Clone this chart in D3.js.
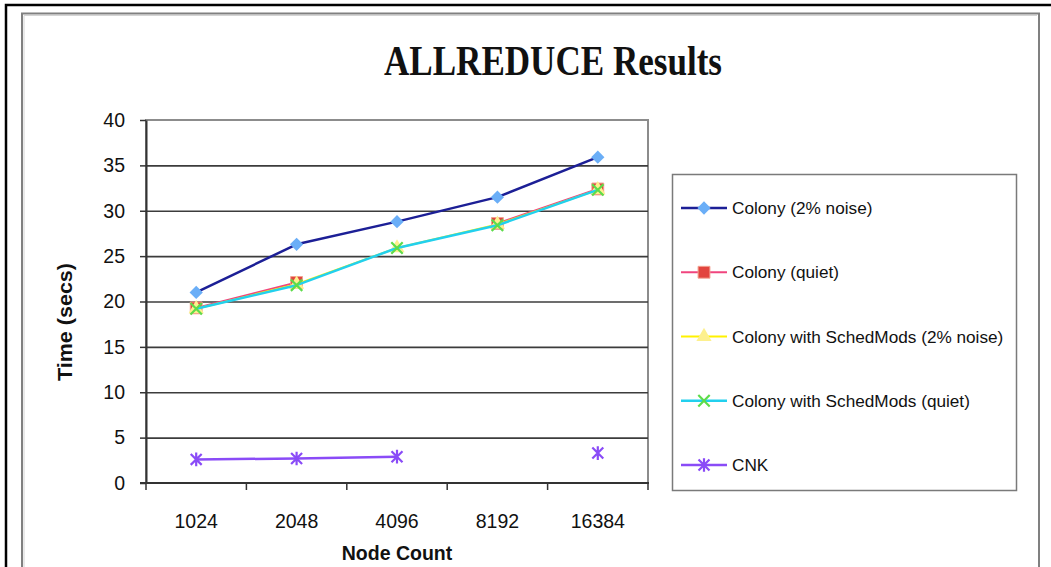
<!DOCTYPE html>
<html>
<head>
<meta charset="utf-8">
<script src="https://cdn.jsdelivr.net/npm/d3@7"></script>
<style>
  html, body { margin: 0; padding: 0; background: #fff; }
  svg { display: block; }
  text { font-family: "Liberation Sans", Arial, sans-serif; fill: #111; }
</style>
</head>
<body>
<svg id="chart" width="1051" height="567"></svg>
<script>
// Node counts on the x axis
const categories = ["1024", "2048", "4096", "8192", "16384"];

// Run times in seconds (null = not measured)
const colonyNoise      = [21.0, 26.3, 28.8, 31.5, 35.9];
const colonyQuiet      = [19.3, 22.1, null, 28.6, 32.4];
const schedModsNoise   = [19.2, 21.9, 25.9, 28.5, 32.3];
const schedModsQuiet   = [19.2, 21.8, 25.9, 28.4, 32.3];
const cnk              = [2.6, 2.7, 2.9, null, 3.3];

const seriesNames = [
  "Colony (2% noise)",
  "Colony (quiet)",
  "Colony with SchedMods (2% noise)",
  "Colony with SchedMods (quiet)",
  "CNK"
];

const yTicks = [0, 5, 10, 15, 20, 25, 30, 35, 40];

const title = "ALLREDUCE Results";
const xTitle = "Node Count";
const yTitle = "Time (secs)";

// ---- marker shapes ----
const crossX = {
  draw(ctx, size) {
    const r = Math.sqrt(size) / 2;
    ctx.moveTo(-r, -r); ctx.lineTo(r, r);
    ctx.moveTo(-r, r); ctx.lineTo(r, -r);
  }
};
const asterisk = {
  draw(ctx, size) {
    const r = Math.sqrt(size) / 2;
    ctx.moveTo(-r, -r); ctx.lineTo(r, r);
    ctx.moveTo(-r, r); ctx.lineTo(r, -r);
    ctx.moveTo(0, -r * 1.25); ctx.lineTo(0, r * 1.25);
  }
};

const series = [
  { name: seriesNames[0], values: colonyNoise,    line: "#1c1f96", fill: "#6aaef7", stroke: "none",    shape: d3.symbolSquare, size: 88, rotate: 45, width: 2.5 },
  { name: seriesNames[1], values: colonyQuiet,    line: "#f0447e", fill: "#e2453f", stroke: "#f2a090", shape: d3.symbolSquare, size: 140, rotate: 0, width: 2 },
  { name: seriesNames[2], values: schedModsNoise, line: "#fff200", fill: "#fdf08e", stroke: "none",    shape: d3.symbolTriangle, size: 100, rotate: 0, width: 2 },
  { name: seriesNames[3], values: schedModsQuiet, line: "#22d0ee", fill: "none",    stroke: "#5ddc4a", shape: crossX, size: 130, rotate: 0, width: 2.5, markerWidth: 2.2 },
  { name: seriesNames[4], values: cnk,            line: "#8a4bf7", fill: "none",    stroke: "#8a4bf7", shape: asterisk, size: 120, rotate: 0, width: 2.5, markerWidth: 2.2 }
];

const svg = d3.select("#chart");

// ---- outer frames ----
svg.append("path")
  .attr("d", "M6,567 L6,5 L1051,5")
  .attr("fill", "none").attr("stroke", "#000").attr("stroke-width", 2.5);
svg.append("path")
  .attr("d", "M22,567 L22,13.5 L1039,13.5 L1039,567")
  .attr("fill", "none").attr("stroke", "#808080").attr("stroke-width", 2);
svg.append("path")
  .attr("d", "M24,567 L24,15.5 L1037,15.5")
  .attr("fill", "none").attr("stroke", "#d4d4d4").attr("stroke-width", 1);

// ---- title ----
svg.append("text")
  .attr("x", 553).attr("y", 75)
  .attr("text-anchor", "middle")
  .attr("textLength", 338)
  .attr("lengthAdjust", "spacingAndGlyphs")
  .style("font-family", "'Liberation Serif', 'DejaVu Serif', serif")
  .style("font-weight", "bold")
  .style("font-size", "42px")
  .text(title);

// ---- scales ----
const plot = { left: 146, right: 648, top: 120, bottom: 483 };
const x = d3.scaleBand().domain(categories).range([plot.left, plot.right]).padding(0);
const y = d3.scaleLinear().domain([0, 40]).range([plot.bottom, plot.top]);
const cx = c => x(c) + x.bandwidth() / 2;

// plot border (right / top)
svg.append("rect")
  .attr("x", plot.left).attr("y", plot.top)
  .attr("width", plot.right - plot.left).attr("height", plot.bottom - plot.top)
  .attr("fill", "#fff").attr("stroke", "#8c8c8c").attr("stroke-width", 2);

// gridlines
const grid = svg.append("g").attr("transform", `translate(${plot.left},0)`)
  .call(d3.axisLeft(y).tickValues(yTicks.filter(v => v > 0 && v < 40)).tickSize(-(plot.right - plot.left)).tickFormat(""));
grid.select(".domain").remove();
grid.selectAll("line").attr("stroke", "#3c3c3c").attr("stroke-width", 1.6);

// y axis
const yAxis = svg.append("g").attr("transform", `translate(${plot.left},0)`)
  .call(d3.axisLeft(y).tickValues(yTicks).tickSize(6).tickPadding(15).tickSizeOuter(0));
yAxis.select(".domain").attr("stroke", "#333").attr("stroke-width", 2);
yAxis.selectAll("line").attr("stroke", "#333").attr("stroke-width", 1.5);
yAxis.selectAll("text")
  .style("font-family", "'Liberation Sans', Arial, sans-serif")
  .style("font-size", "19.5px").attr("fill", "#111");

// x axis: boundary ticks + centered labels
const xAxis = svg.append("g").attr("transform", `translate(0,${plot.bottom})`)
  .call(d3.axisBottom(x).tickSize(0).tickPadding(31));
xAxis.select(".domain").remove();
xAxis.selectAll("text")
  .style("font-family", "'Liberation Sans', Arial, sans-serif")
  .style("font-size", "19.5px").attr("fill", "#111");
const bounds = categories.map(c => x(c)).concat([plot.right]);
svg.append("g").selectAll("line").data(bounds).join("line")
  .attr("x1", d => d).attr("x2", d => d)
  .attr("y1", plot.bottom).attr("y2", plot.bottom + 7)
  .attr("stroke", "#333").attr("stroke-width", 1.5);
svg.append("line")
  .attr("x1", plot.left - 6).attr("x2", plot.right + 1)
  .attr("y1", plot.bottom).attr("y2", plot.bottom)
  .attr("stroke", "#333").attr("stroke-width", 2);

// axis titles
svg.append("text")
  .attr("x", plot.left + (plot.right - plot.left) / 2).attr("y", 560)
  .attr("text-anchor", "middle")
  .style("font-weight", "bold").style("font-size", "19.5px")
  .text(xTitle);
svg.append("text")
  .attr("transform", "translate(72,322) rotate(-90)")
  .attr("text-anchor", "middle")
  .attr("textLength", 118).attr("lengthAdjust", "spacingAndGlyphs")
  .style("font-weight", "bold").style("font-size", "19.5px")
  .text(yTitle);

// ---- series ----
const line = d3.line()
  .defined(d => d.v != null)
  .x(d => cx(d.c))
  .y(d => y(d.v));

function drawMarker(g, s, px, py) {
  g.append("path")
    .attr("d", d3.symbol().type(s.shape).size(s.size)())
    .attr("transform", `translate(${px},${py}) rotate(${s.rotate})`)
    .attr("fill", s.fill)
    .attr("stroke", s.stroke)
    .attr("stroke-width", s.markerWidth || 1);
}

const dataG = svg.append("g");
series.forEach(s => {
  const pts = categories.map((c, i) => ({ c, v: s.values[i] }));
  dataG.append("path")
    .datum(pts)
    .attr("d", line)
    .attr("fill", "none")
    .attr("stroke", s.line)
    .attr("stroke-width", s.width)
    .attr("stroke-linejoin", "round");
  const mg = dataG.append("g");
  pts.filter(p => p.v != null).forEach(p => drawMarker(mg, s, cx(p.c), y(p.v)));
});

// ---- legend ----
const legend = svg.append("g");
legend.append("rect")
  .attr("x", 672.5).attr("y", 174.5).attr("width", 344).attr("height", 316)
  .attr("fill", "#fff").attr("stroke", "#7a7a7a").attr("stroke-width", 1.5);
const legendY = d3.scalePoint().domain(seriesNames).range([208, 465]);
series.forEach(s => {
  const ly = legendY(s.name);
  legend.append("line")
    .attr("x1", 681).attr("x2", 727).attr("y1", ly).attr("y2", ly)
    .attr("stroke", s.line).attr("stroke-width", s.width);
  drawMarker(legend, s, 704, ly);
  legend.append("text")
    .attr("x", 732).attr("y", ly + 6)
    .style("font-size", "17.2px")
    .text(s.name);
});
</script>
</body>
</html>
